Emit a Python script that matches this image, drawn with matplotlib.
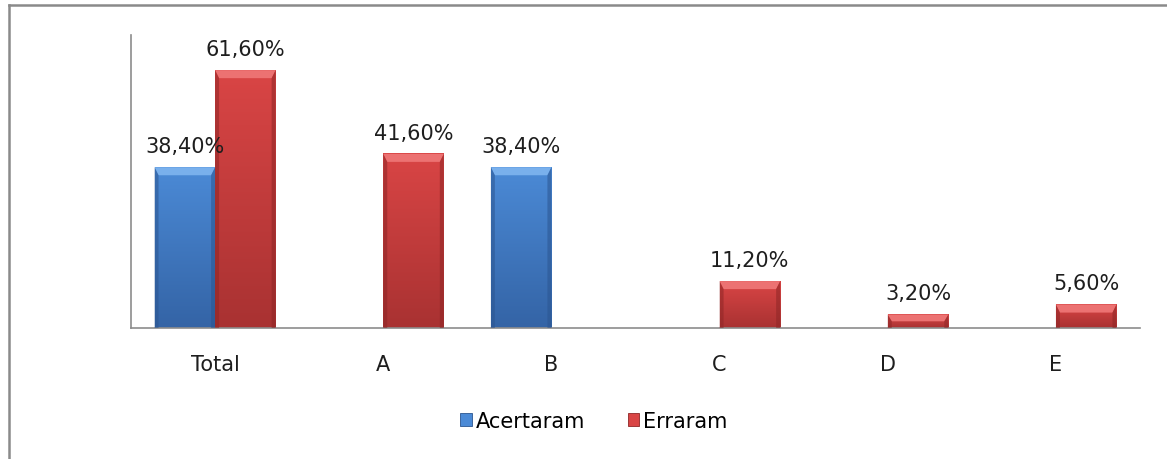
import numpy as np
import matplotlib
matplotlib.use("Agg")
from matplotlib import pyplot as plt
from matplotlib.patches import Polygon, Patch
from matplotlib.lines import Line2D

categorias = ["Total", "A", "B", "C", "D", "E"]
acertaram = [38.40, 0, 38.40, 0, 0, 0]
erraram = [61.60, 41.60, 0, 11.20, 3.20, 5.60]

# cores de cada série: topo do degradê, base do degradê, chanfro claro, borda escura
cores = {
    "Acertaram": ("#4b8ad6", "#3464a6", "#79b0ec", "#2b5590"),
    "Erraram": ("#d94545", "#a93232", "#ec7272", "#8e2626"),
}

W, H, DPI = 1167, 460, 100
plt.rcParams["font.family"] = ["DejaVu Sans"]

fig = plt.figure(figsize=(W / DPI, H / DPI), dpi=DPI)
fig.patch.set_facecolor("white")

# área do gráfico em pixels
x0_px, x1_px, y_top, y_base = 131, 1140, 36, 329
ax = fig.add_axes([x0_px / W, (H - y_base) / H, (x1_px - x0_px) / W, (y_base - y_top) / H])

ymax = 70
ax.set_xlim(-0.5, len(categorias) - 0.5)
ax.set_ylim(0, ymax)

# conversão de pixels para unidades de dados (chanfro dos bevels)
px_x = len(categorias) / (x1_px - x0_px)
px_y = ymax / (y_base - y_top)

largura = 0.36
x = np.arange(len(categorias))


def barra_chanfrada(xc, v, cor):
    topo, base, claro, escuro = cor
    xa, xb = xc - largura / 2, xc + largura / 2
    grad = np.linspace(0, 1, 64).reshape(-1, 1)
    c_top = np.array(matplotlib.colors.to_rgb(topo))
    c_bot = np.array(matplotlib.colors.to_rgb(base))
    img = c_top * (1 - grad[..., None]) + c_bot * grad[..., None]
    ax.imshow(img, extent=[xa, xb, 0, v], aspect="auto", origin="upper", zorder=2,
              interpolation="bilinear")
    bx = 4 * px_x
    by = min(8 * px_y, v / 2)
    ax.add_patch(Polygon([(xa, v), (xb, v), (xb - bx, v - by), (xa + bx, v - by)],
                         closed=True, facecolor=claro, edgecolor="none", zorder=3))
    ax.add_patch(Polygon([(xa, v), (xa + bx, v - by), (xa + bx, 0), (xa, 0)],
                         closed=True, facecolor=escuro, edgecolor="none", alpha=0.55, zorder=3))
    ax.add_patch(Polygon([(xb, v), (xb - bx, v - by), (xb - bx, 0), (xb, 0)],
                         closed=True, facecolor=escuro, edgecolor="none", alpha=0.55, zorder=3))
    rotulo = f"{v:.2f}%".replace(".", ",")
    ax.annotate(rotulo, (xc, v), xytext=(0, 8), textcoords="offset points",
                ha="center", va="bottom", fontsize=15, color="#1e1e1e", zorder=5)


for i in range(len(categorias)):
    if acertaram[i] > 0:
        barra_chanfrada(x[i] - largura / 2, acertaram[i], cores["Acertaram"])
    if erraram[i] > 0:
        barra_chanfrada(x[i] + largura / 2, erraram[i], cores["Erraram"])

ax.set_xticks(x)
ax.set_xticklabels(categorias, fontsize=15, color="#1e1e1e")
ax.set_yticks([])
ax.tick_params(axis="x", length=0, pad=19)
for lado in ("top", "right"):
    ax.spines[lado].set_visible(False)
for lado in ("left", "bottom"):
    ax.spines[lado].set_color("#8c8c8c")
    ax.spines[lado].set_linewidth(1.2)
ax.set_zorder(1)

handles = [Patch(facecolor=cores[k][0], edgecolor=cores[k][3], linewidth=0.6, label=k)
           for k in ("Acertaram", "Erraram")]
fig.legend(handles=handles, loc="center", bbox_to_anchor=(594 / W, 1 - 422 / H),
           ncol=2, frameon=False, fontsize=15, handlelength=0.55, handleheight=0.55,
           handletextpad=0.2, columnspacing=2.05)

# moldura cinza do gráfico
fig.add_artist(Line2D([9 / W, 9 / W], [0, 1 - 6 / H], color="#8a8a8a", linewidth=1.8,
                      transform=fig.transFigure))
fig.add_artist(Line2D([9 / W, 1], [1 - 6 / H, 1 - 6 / H], color="#8a8a8a", linewidth=1.8,
                      transform=fig.transFigure))

fig.savefig("out.png", dpi=DPI, facecolor="white")
